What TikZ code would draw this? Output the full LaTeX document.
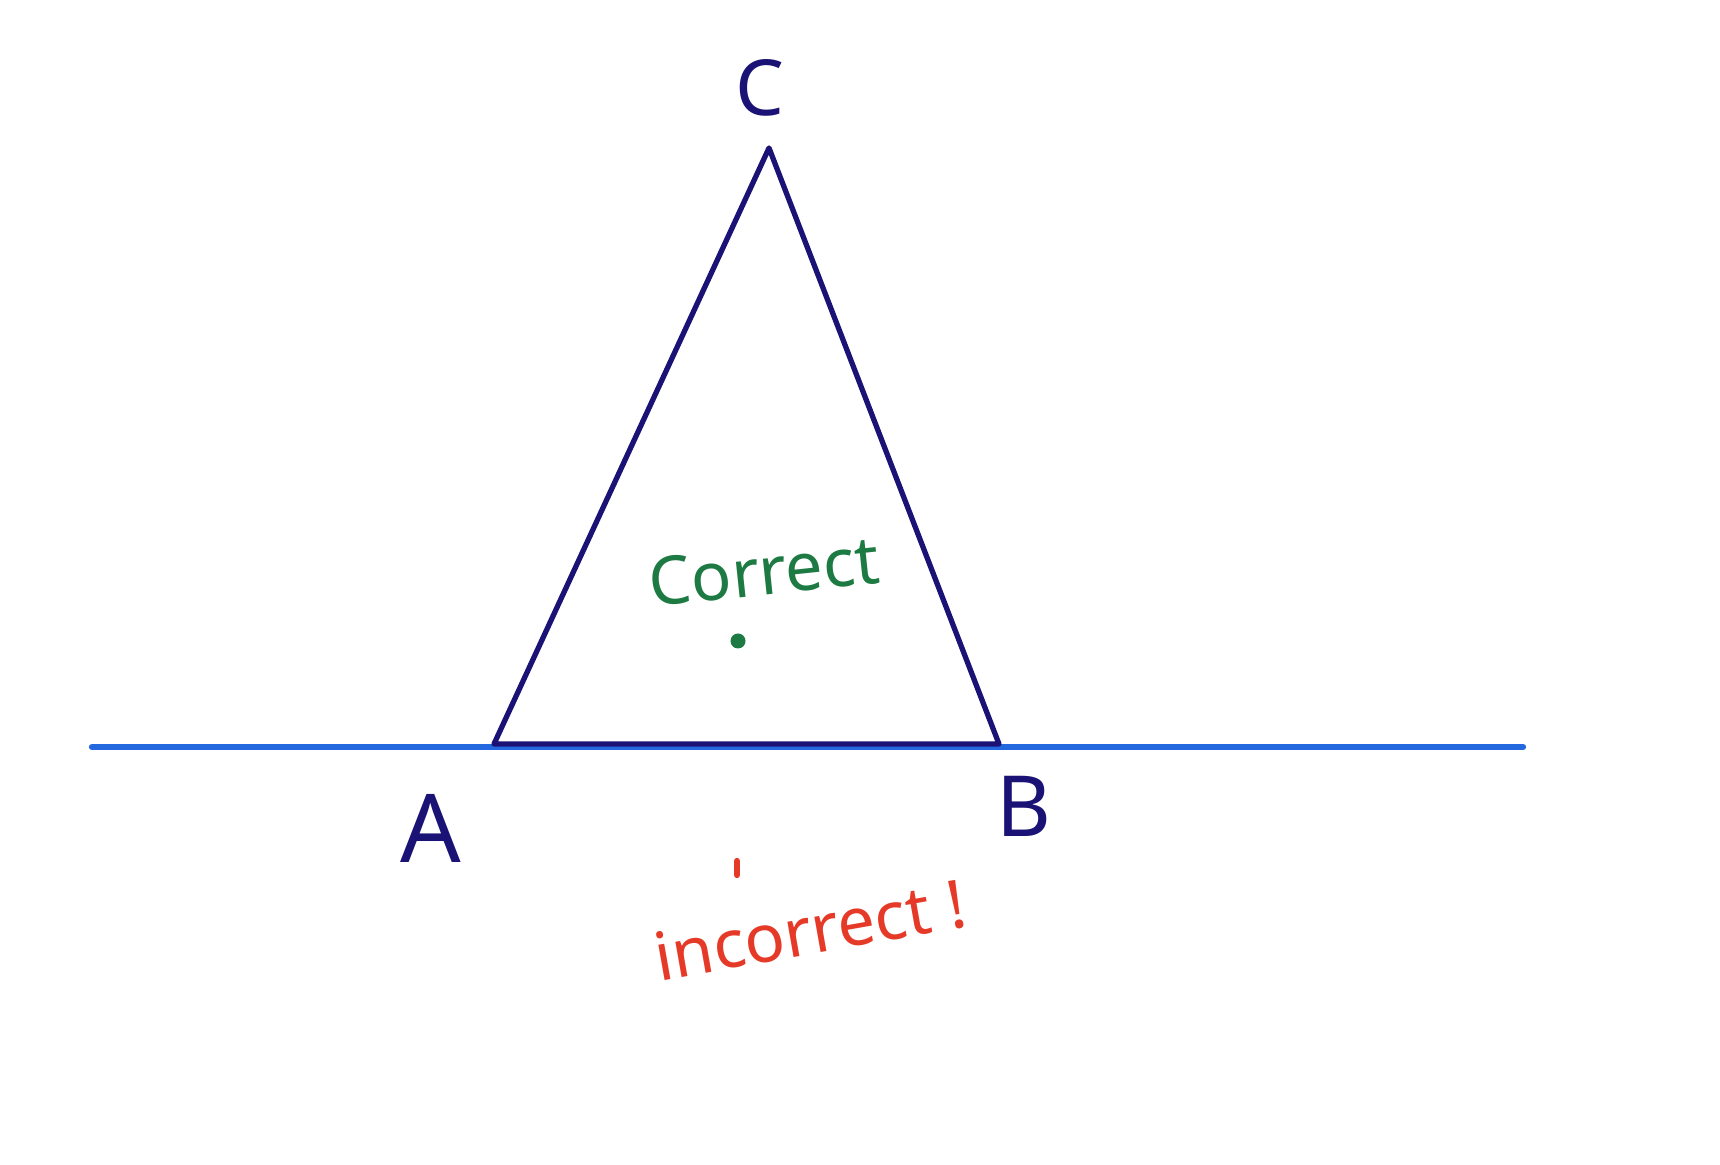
\documentclass[tikz,border=0pt]{standalone}
\usepackage{fontspec}
\setmainfont{Noto Sans}
\definecolor{navy}{HTML}{1B1275}
\definecolor{lineblue}{HTML}{2468E0}
\definecolor{okgreen}{HTML}{1C7A42}
\definecolor{badred}{HTML}{E63A28}
\tikzset{
  vertexlabel/.style={text=navy, inner sep=0pt},
  remark/.style={inner sep=0pt, font=\fontsize{19}{22}\selectfont}
}
\begin{document}
\begin{tikzpicture}[x=0.01cm, y=-0.01cm, line cap=round, line join=round]
                \useasboundingbox (0,0) rectangle (1720,1165);

                % Nodes
                \coordinate (A) at (494,744);
                \coordinate (B) at (999,744);
                \coordinate (C) at (769,148);
                \coordinate (left) at (92,747);
                \coordinate (right) at (1523,747);
                \node[vertexlabel, font=\fontsize{22}{24}\selectfont] (Clabel) at (760,88) {C};
                \node[vertexlabel, font=\fontsize{27}{30}\selectfont] (Alabel) at (431,828) {A};
                \node[vertexlabel, font=\fontsize{24}{27}\selectfont] (Blabel) at (1024,806) {B};
                \node[remark, text=okgreen, rotate=6] (correct) at (764,571) {Correct};
                \node[circle, fill=okgreen, inner sep=0pt, minimum size=0.15cm] (dot) at (738,641) {};
                \coordinate (ticktop) at (737,861);
                \coordinate (tickbot) at (737,875);
                \node[remark, text=badred, rotate=10] (incorrect) at (810,930) {incorrect !};

                % Edges
                \draw[lineblue, line width=1.8pt] (left)--(right);
                \draw[navy, line width=1.5pt] (A)--(C)--(B)--cycle;
                \draw[badred, line width=1.8pt] (ticktop)--(tickbot);
            \end{tikzpicture}
\end{document}
